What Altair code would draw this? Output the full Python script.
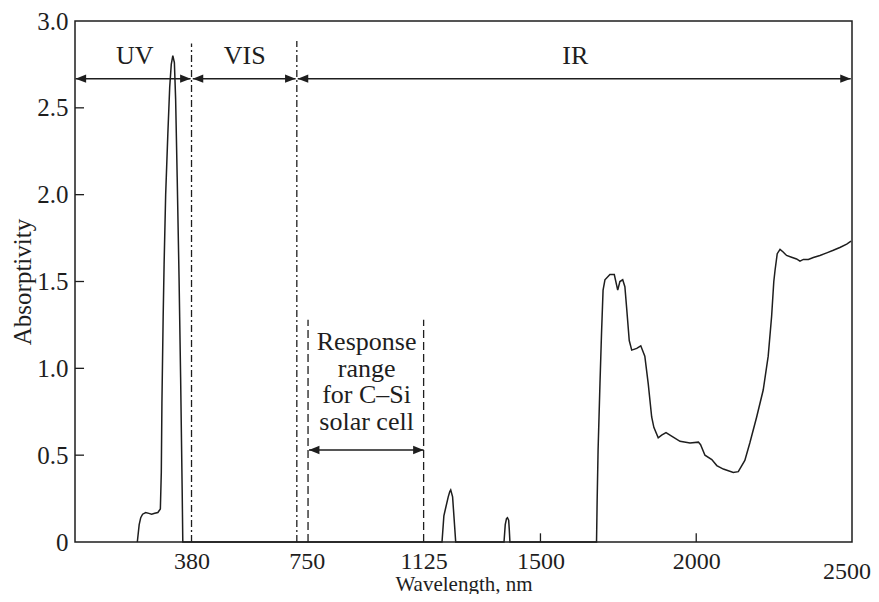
import altair as alt
import pandas as pd

# ---------------- data ----------------
wavelength = [206, 212, 217, 223, 233, 243, 252, 262, 272, 280, 283, 285, 289, 292, 297,
              304, 310, 315, 320, 325, 329, 334, 340, 345, 350, 352,
              1184, 1190, 1195, 1204, 1209, 1212, 1218, 1223, 1228,
              1383, 1387, 1391, 1394, 1398, 1400, 1402,
              1680, 1682, 1685, 1691, 1696, 1701, 1707, 1723, 1737, 1748, 1755, 1764,
              1771, 1777, 1785, 1793, 1809, 1822, 1835, 1846, 1857, 1864, 1878, 1889,
              1903, 1921, 1948, 1980, 2007, 2014, 2028, 2050, 2066, 2087, 2119, 2135,
              2156, 2172, 2194, 2215, 2231, 2242, 2249, 2253, 2260, 2269, 2279, 2290,
              2306, 2322, 2333, 2344, 2360, 2376, 2397, 2419, 2440, 2461, 2483, 2497]
absorptivity = [0.0, 0.10, 0.14, 0.16, 0.17, 0.165, 0.16, 0.165, 0.17, 0.19, 0.40, 0.80, 1.30, 1.60, 2.00,
                2.35, 2.62, 2.75, 2.80, 2.76, 2.55, 2.10, 1.52, 0.95, 0.30, 0.0,
                0.0, 0.15, 0.19, 0.26, 0.29, 0.30, 0.26, 0.13, 0.0,
                0.0, 0.10, 0.135, 0.14, 0.125, 0.07, 0.0,
                0.0, 0.24, 0.53, 0.91, 1.20, 1.45, 1.51, 1.54, 1.54, 1.45, 1.50, 1.51,
                1.47, 1.34, 1.16, 1.105, 1.115, 1.13, 1.07, 0.91, 0.72, 0.66, 0.60, 0.615,
                0.63, 0.61, 0.58, 0.57, 0.575, 0.56, 0.50, 0.475, 0.44, 0.42, 0.40, 0.405,
                0.47, 0.57, 0.72, 0.875, 1.07, 1.30, 1.50, 1.565, 1.66, 1.685, 1.67, 1.65,
                1.64, 1.63, 1.617, 1.627, 1.627, 1.638, 1.65, 1.665, 1.68, 1.696, 1.715, 1.732]

x_tick_values = [380, 750, 1125, 1500, 2000]
y_tick_values = [0, 0.5, 1.0, 1.5, 2.0, 2.5, 3.0]
last_x_label = ["2500"]
last_x_value = [2500]
last_x_label_level = -0.105

# region boundaries (dash-dot) and solar cell range (dashed)
region_bounds = [380, 718]
region_bound_tops = [2.87, 2.885]
cell_bounds = [754, 1125]
cell_bound_tops = [1.28, 1.28]

# double arrows: start, end, level
arrow_start = [8, 384, 721, 757]
arrow_end = [377, 714, 2496, 1125]
arrow_level = [2.668, 2.668, 2.668, 0.53]

region_names = ["UV", "VIS", "IR"]
region_label_x = [198, 551, 1612]
region_label_y = [2.80, 2.80, 2.80]

cell_label = ["Response", "range", "for C\u2013Si", "solar cell"]
cell_label_x = [942]
cell_label_y = [1.105]

inner_x_ticks = [1500, 2000]
inner_x_tick_len = 0.05
inner_y_ticks = [0.5, 1.0, 1.5, 2.0, 2.5]
inner_y_tick_len = 29

# ---------------- chart ----------------
FONT = "Liberation Serif"
INK = "#1e1e1e"
XDOM = [6, 2500]
YDOM = [0, 3]
FS = 25

xs = alt.Scale(domain=XDOM, nice=False, zero=False)
ys = alt.Scale(domain=YDOM, nice=False)

curve_df = pd.DataFrame({"wl": wavelength, "a": absorptivity})

base_x = alt.X("wl:Q", scale=xs,
               axis=alt.Axis(values=x_tick_values, format="d", ticks=False, domain=False, grid=False,
                             labelFont=FONT, labelFontSize=24, labelColor=INK, labelPadding=7,
                             title="Wavelength, nm", titleFont=FONT, titleFontSize=21,
                             titleFontWeight="normal", titleColor=INK, titlePadding=0))
base_y = alt.Y("a:Q", scale=ys,
               axis=alt.Axis(values=y_tick_values, ticks=False, domain=False, grid=False,
                             labelExpr="datum.value == 0 ? '0' : format(datum.value, '.1f')",
                             labelFont=FONT, labelFontSize=FS, labelColor=INK, labelPadding=7,
                             title="Absorptivity", titleFont=FONT, titleFontSize=FS,
                             titleFontWeight="normal", titleColor=INK, titlePadding=1))

curve = alt.Chart(curve_df).mark_line(color=INK, strokeWidth=1.5).encode(x=base_x, y=base_y)

rb_df = pd.DataFrame({"x": region_bounds, "bot": [0.0] * len(region_bounds), "top": region_bound_tops})
region_lines = alt.Chart(rb_df).mark_rule(color=INK, strokeWidth=1.3, strokeDash=[7, 3, 2, 3]).encode(
    x=alt.X("x:Q", scale=xs), y=alt.Y("bot:Q", scale=ys), y2="top:Q")

cb_df = pd.DataFrame({"x": cell_bounds, "bot": [0.0] * len(cell_bounds), "top": cell_bound_tops})
cell_lines = alt.Chart(cb_df).mark_rule(color=INK, strokeWidth=1.3, strokeDash=[8, 4]).encode(
    x=alt.X("x:Q", scale=xs), y=alt.Y("bot:Q", scale=ys), y2="top:Q")

ar_df = pd.DataFrame({"s": arrow_start, "e": arrow_end, "lv": arrow_level})
arrow_lines = alt.Chart(ar_df).mark_rule(color=INK, strokeWidth=1.5).encode(
    x=alt.X("s:Q", scale=xs), x2="e:Q", y=alt.Y("lv:Q", scale=ys))

right_head = alt.Chart(ar_df).mark_point(shape="M0,0L-2,-0.8L-2,0.8Z", filled=True, size=110,
                                        color=INK, opacity=1, strokeWidth=0).encode(
    x=alt.X("e:Q", scale=xs), y=alt.Y("lv:Q", scale=ys))
left_head = alt.Chart(ar_df).mark_point(shape="M0,0L2,-0.8L2,0.8Z", filled=True, size=110,
                                       color=INK, opacity=1, strokeWidth=0).encode(
    x=alt.X("s:Q", scale=xs), y=alt.Y("lv:Q", scale=ys))

rl_df = pd.DataFrame({"name": region_names, "x": region_label_x, "y": region_label_y})
region_text = alt.Chart(rl_df).mark_text(font=FONT, fontSize=26, color=INK, baseline="middle").encode(
    x=alt.X("x:Q", scale=xs), y=alt.Y("y:Q", scale=ys), text="name:N")

cell_text = alt.Chart(pd.DataFrame({"x": cell_label_x, "y": cell_label_y})).mark_text(
    font=FONT, fontSize=26, color=INK, baseline="alphabetic", lineHeight=26.5,
    text=cell_label).encode(
    x=alt.X("x:Q", scale=xs), y=alt.Y("y:Q", scale=ys))

xt_df = pd.DataFrame({"x": inner_x_ticks, "b": [0.0] * len(inner_x_ticks),
                      "t": [inner_x_tick_len] * len(inner_x_ticks)})
x_ticks = alt.Chart(xt_df).mark_rule(color=INK, strokeWidth=1.3).encode(
    x=alt.X("x:Q", scale=xs), y=alt.Y("b:Q", scale=ys), y2="t:Q")

yt_df = pd.DataFrame({"y": inner_y_ticks, "l": [XDOM[0]] * len(inner_y_ticks),
                      "r": [XDOM[0] + inner_y_tick_len] * len(inner_y_ticks)})
y_ticks = alt.Chart(yt_df).mark_rule(color=INK, strokeWidth=1.3).encode(
    y=alt.Y("y:Q", scale=ys), x=alt.X("l:Q", scale=xs), x2="r:Q")

last_df = pd.DataFrame({"x": last_x_value, "y": [last_x_label_level], "t": last_x_label})
last_label = alt.Chart(last_df).mark_text(font=FONT, fontSize=24, color=INK, baseline="top",
                                          dx=-5).encode(
    x=alt.X("x:Q", scale=xs), y=alt.Y("y:Q", scale=ys), text="t:N")

chart = alt.layer(curve, region_lines, cell_lines, arrow_lines, right_head, left_head,
                  region_text, cell_text, x_ticks, y_ticks, last_label).properties(
    width=777, height=521,
    autosize=alt.AutoSizeParams(type="none"),
    padding={"left": 67, "top": 13, "right": 19, "bottom": 52},
    background="white",
).configure_view(stroke=INK, strokeWidth=1.5)

chart.save("out.html", embed_options={"renderer": "svg", "actions": False})
